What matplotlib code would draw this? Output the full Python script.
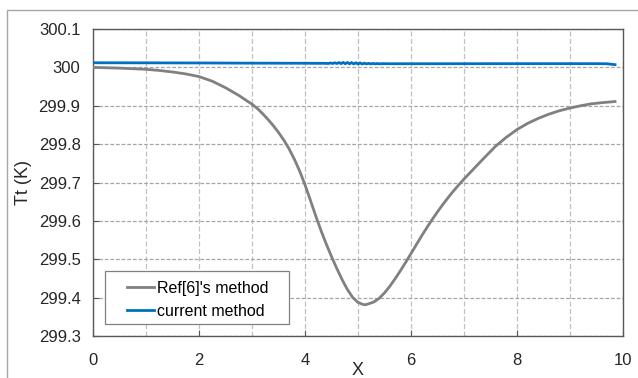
import matplotlib
matplotlib.use("Agg")
import matplotlib.pyplot as plt
from matplotlib.patches import Rectangle

plt.rcParams['font.family'] = ['Liberation Sans', 'DejaVu Sans']

ref_x = [0.0, 0.5, 1.0, 1.25, 1.5, 1.75, 2.0, 2.25, 2.5, 2.75, 3.0, 3.1, 3.2, 3.3, 3.4, 3.5,
         3.6, 3.7, 3.8, 3.9, 4.0, 4.1, 4.2, 4.3, 4.4, 4.5, 4.6, 4.7, 4.8, 4.9, 5.0, 5.1,
         5.14, 5.2, 5.3, 5.4, 5.5, 5.6, 5.7, 5.8, 5.9, 6.0, 6.1, 6.2, 6.3, 6.4, 6.5, 6.6,
         6.7, 6.8, 6.9, 7.0, 7.2, 7.4, 7.6, 7.8, 8.0, 8.2, 8.4, 8.6, 8.8, 9.0, 9.2, 9.4,
         9.6, 9.85]
ref_t = [300.000, 299.998, 299.995, 299.992, 299.988, 299.983, 299.976, 299.964, 299.947,
         299.927, 299.904, 299.893, 299.8795, 299.8645, 299.8485, 299.8305, 299.8105,
         299.7875, 299.7605, 299.7295, 299.694, 299.6545, 299.614, 299.5755, 299.540,
         299.507, 299.476, 299.447, 299.421, 299.4005, 299.3875, 299.382, 299.3815,
         299.3838, 299.3888, 299.3983, 299.4123, 299.4296, 299.4491, 299.4701, 299.4921,
         299.5148, 299.5378, 299.5606, 299.5826, 299.6036, 299.6236, 299.6426, 299.6606,
         299.6776, 299.6936, 299.709, 299.738, 299.767, 299.795, 299.818, 299.838,
         299.854, 299.867, 299.878, 299.887, 299.894, 299.900, 299.905, 299.908, 299.911]

cur_x = [0.0, 1.0, 2.0, 3.0, 4.0, 4.40, 4.44, 4.48, 4.52, 4.56, 4.60, 4.64, 4.68, 4.72,
         4.76, 4.80, 4.84, 4.88, 4.92, 4.96, 5.00, 5.04, 5.08, 5.12, 5.16, 5.20, 5.24,
         5.28, 5.32, 5.36, 5.40, 5.48, 5.60, 6.5, 7.5, 8.5, 9.5, 9.7, 9.85]
cur_t = [300.0120, 300.0118, 300.0115, 300.0110, 300.0107, 300.0105, 300.0100, 300.0115,
         300.0100, 300.0120, 300.0100, 300.0125, 300.0098, 300.0128, 300.0095, 300.0128,
         300.0092, 300.0125, 300.0090, 300.0120, 300.0088, 300.0115, 300.0088, 300.0110,
         300.0090, 300.0106, 300.0090, 300.0103, 300.0092, 300.0100, 300.0093, 300.0097,
         300.0095, 300.0095, 300.0096, 300.0097, 300.0097, 300.0094, 300.0070]

x_ticks = [0, 2, 4, 6, 8, 10]
y_ticks = [299.3, 299.4, 299.5, 299.6, 299.7, 299.8, 299.9, 300.0, 300.1]
y_labels = ['299.3', '299.4', '299.5', '299.6', '299.7', '299.8', '299.9', '300', '300.1']

fig = plt.figure(figsize=(6.38, 3.78), dpi=100)
fig.patches.append(Rectangle((7/638, -0.01), 1.0, 1 - 10/378 + 0.01, transform=fig.transFigure,
                             fill=False, edgecolor='#a6a6a6', linewidth=1.0))
ax = fig.add_axes([93/638, 42/378, 530/638, 307/378])

ax.plot(ref_x, ref_t, color='#808080', linewidth=2.0, label="Ref[6]'s method", zorder=3,
        solid_joinstyle='round')
ax.plot(cur_x, cur_t, color='#0070C0', linewidth=2.0, label='current method', zorder=3,
        solid_joinstyle='round')

ax.set_xlim(0, 10)
ax.set_ylim(299.3, 300.1)
ax.set_xticks(x_ticks)
ax.set_xticklabels([str(v) for v in x_ticks])
ax.set_xticks([1, 3, 5, 7, 9], minor=True)
ax.set_yticks(y_ticks)
ax.set_yticklabels(y_labels)

ax.grid(True, which='both', axis='x', color='#c0c0c0', linestyle=(0, (4, 2)), linewidth=0.9)
ax.grid(True, which='major', axis='y', color='#a6a6a6', linestyle=(0, (3, 1.5)), linewidth=0.9)
ax.set_axisbelow(True)

ax.tick_params(axis='both', which='major', direction='in', length=4, color='#595959',
               labelsize=12, labelcolor='#262626')
ax.tick_params(axis='x', which='major', pad=12)
ax.tick_params(axis='y', which='major', pad=9)
ax.tick_params(axis='x', which='minor', length=0)
for s in ax.spines.values():
    s.set_color('#595959')
    s.set_linewidth(1.0)

ax.set_xlabel('X', fontsize=13, labelpad=-4, color='#262626')
ax.set_ylabel('Tt (K)', fontsize=13, labelpad=5, color='#262626')

# legend frame drawn separately to get wider horizontal padding like the reference
ax.add_patch(Rectangle((12/530, 12/307), 184/530, 53/307, transform=ax.transAxes,
                       facecolor='white', edgecolor='#808080', linewidth=0.9, zorder=4))
leg = ax.legend(loc='lower left', bbox_to_anchor=(34/530, 17/307), fontsize=11.5,
                frameon=False, handlelength=1.7, handletextpad=0.2, borderpad=0,
                labelspacing=0.5, borderaxespad=0)
leg.set_zorder(5)

fig.savefig('out.png', dpi=100)
